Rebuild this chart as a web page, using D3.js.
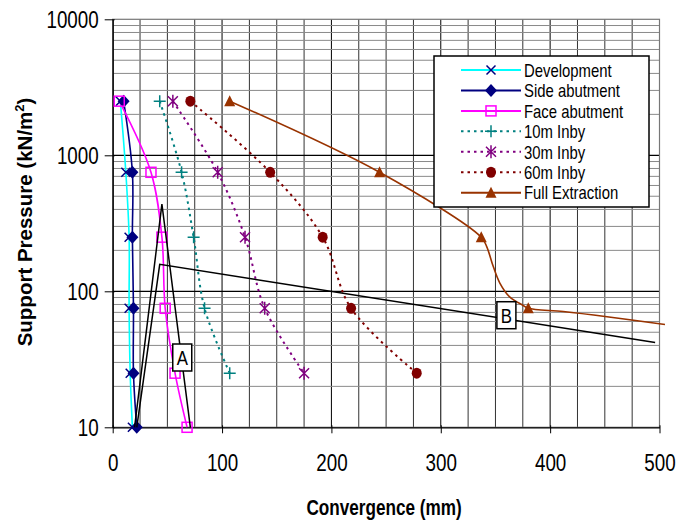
<!DOCTYPE html>
<html><head><meta charset="utf-8">
<script src="https://cdn.jsdelivr.net/npm/d3@7"></script>
<style>body{margin:0;background:#fff}svg{display:block}text{font-family:"Liberation Sans",Arial,sans-serif}</style>
</head><body>
<svg id="c" width="691" height="521"></svg>
<script>
// ---- data ----
const pressure = [2500, 750, 250, 75, 25, 10];
const pressureInby = [2500, 750, 250, 75, 25];
const developmentX = [7, 12, 15, 15, 16, 18];
const sideAbutmentX = [10, 18, 18, 19, 19, 22];
const faceAbutmentX = [6, 35, 45, 48, 57, 68];
const inby10X = [43, 63, 74, 84, 107];
const inby30X = [55, 96, 121, 139, 175];
const inby60X = [71, 144, 192, 218, 278];
const fullExtractionX = [107, 244, 337, 380];
const fullExtractionP = [2500, 750, 250, 75];
const fullExtractionLineX = [107, 244, 337, 342, 348, 354, 363, 375, 380, 412, 452, 505];
const fullExtractionLineP = [2500, 750, 250, 213, 152, 115, 91, 79, 75, 71, 65, 57];
const lineAX = [20, 45, 71];
const lineAP = [10, 438, 10];
const lineBX = [22, 43, 496];
const lineBP = [10, 158, 42];
const labelText = ["A", "B"];
const labelX = [63.6, 360];
const labelP = [32.6, 66.7];
const xTicks = [0, 100, 200, 300, 400, 500];
const yTicks = [10, 100, 1000, 10000];
const seriesNames = ["Development", "Side abutment", "Face abutment", "10m Inby", "30m Inby", "60m Inby", "Full Extraction"];

const SX = 0.8;
const svg = d3.select("#c");
const x = d3.scaleLinear().domain([0, 500]).range([112.7, 659.5]);
const y = d3.scaleLog().domain([10, 10000]).range([427.3, 19.3]);
const X0 = x.range()[0], X1 = x.range()[1], Y0 = y.range()[0], Y1 = y.range()[1];

// gridlines
const grid = svg.append("g");
const vGrid = d3.range(0, 501, 25);
grid.selectAll(".vg").data(vGrid).enter().append("line")
  .attr("x1", d => x(d)).attr("x2", d => x(d)).attr("y1", Y1).attr("y2", Y0)
  .attr("stroke", d => d % 100 === 0 ? "#000" : "#333").attr("stroke-width", 1);
const hMinor = [];
[10, 100, 1000].forEach(dec => { for (let k = 2; k <= 9; k++) hMinor.push(dec * k); });
grid.selectAll(".hg").data(hMinor).enter().append("line")
  .attr("x1", X0).attr("x2", X1).attr("y1", d => y(d)).attr("y2", d => y(d))
  .attr("stroke", "#8a8a8a").attr("stroke-width", 1);
grid.selectAll(".hM").data([100, 1000]).enter().append("line")
  .attr("x1", X0).attr("x2", X1).attr("y1", d => y(d)).attr("y2", d => y(d))
  .attr("stroke", "#000").attr("stroke-width", 1.3);
svg.append("rect").attr("x", X0).attr("y", Y1).attr("width", X1 - X0).attr("height", Y0 - Y1)
  .attr("fill", "none").attr("stroke", "#777").attr("stroke-width", 1.2);

// axes
const xAxis = svg.append("g").attr("transform", `translate(0,${Y0})`)
  .call(d3.axisBottom(x).tickValues(xTicks).tickFormat(d3.format("d")).tickSizeOuter(0));
xAxis.select(".domain").attr("stroke", "#000").attr("stroke-width", 1.3);
xAxis.selectAll(".tick line").attr("y1", -2).attr("y2", 6).attr("stroke", "#000");
xAxis.selectAll(".tick text").attr("y", 0).attr("dy", 0)
  .attr("transform", "translate(0,44) scale(" + SX + ",1)")
  .attr("font-size", 23.5).attr("fill", "#000").attr("font-family", "Liberation Sans, Arial");

const yAxis = svg.append("g").attr("transform", `translate(${X0},0)`)
  .call(d3.axisLeft(y).tickValues(yTicks).tickFormat(d3.format("d")).tickSizeOuter(0));
yAxis.select(".domain").attr("stroke", "#000").attr("stroke-width", 1.3);
yAxis.selectAll(".tick line").attr("x1", 2).attr("x2", -8).attr("stroke", "#000");
yAxis.selectAll(".tick text").attr("x", 0).attr("dy", 0)
  .attr("transform", "translate(-14,8) scale(" + SX + ",1)")
  .attr("font-size", 23.5).attr("fill", "#000").attr("font-family", "Liberation Sans, Arial");

// axis titles
svg.append("text").attr("transform", `translate(${(X0 + X1) / 2 - 2},515) scale(0.78,1)`)
  .attr("text-anchor", "middle").attr("font-size", 22).attr("font-weight", "bold")
  .text("Convergence (mm)");
const yt = svg.append("text").attr("transform", "translate(32,222) rotate(-90)")
  .attr("text-anchor", "middle").attr("font-size", 20.5).attr("font-weight", "bold");
yt.append("tspan").text("Support Pressure (kN/m");
yt.append("tspan").attr("dy", -8).attr("font-size", 13).text("2");
yt.append("tspan").attr("dy", 8).text(")");

// series
const smooth = d3.line().x(d => x(d[0])).y(d => y(d[1])).curve(d3.curveCatmullRom.alpha(0.5));
const straight = d3.line().x(d => x(d[0])).y(d => y(d[1]));
const zip = (a, b) => a.map((v, i) => [v, b[i]]);

const series = [
  {name: seriesNames[0], pts: zip(developmentX, pressure), line: "#00FFFF", mk: "#000080", shape: "x", dash: null},
  {name: seriesNames[1], pts: zip(sideAbutmentX, pressure), line: "#000080", mk: "#000080", shape: "diamond", dash: null},
  {name: seriesNames[2], pts: zip(faceAbutmentX, pressure), line: "#FF00FF", mk: "#FF00FF", shape: "square", dash: null},
  {name: seriesNames[3], pts: zip(inby10X, pressureInby), line: "#008080", mk: "#008080", shape: "plus", dash: "2.5,4"},
  {name: seriesNames[4], pts: zip(inby30X, pressureInby), line: "#800080", mk: "#800080", shape: "star", dash: "2.5,4"},
  {name: seriesNames[5], pts: zip(inby60X, pressureInby), line: "#800000", mk: "#800000", shape: "circle", dash: "2.5,4"},
  {name: seriesNames[6], pts: zip(fullExtractionX, fullExtractionP), linePts: zip(fullExtractionLineX, fullExtractionLineP), line: "#993300", mk: "#993300", shape: "triangle", dash: null}
];

function marker(g, shape, color, cx, cy) {
  const s = g.append("g").attr("transform", `translate(${cx},${cy})`);
  if (shape === "x") {
    s.append("path").attr("d", "M-4.5,-4.5L4.5,4.5M-4.5,4.5L4.5,-4.5").attr("stroke", color).attr("stroke-width", 1.5);
  } else if (shape === "diamond") {
    s.append("path").attr("d", "M0,-6.5L6,0L0,6.5L-6,0Z").attr("fill", color);
  } else if (shape === "square") {
    s.append("rect").attr("x", -5).attr("y", -5).attr("width", 10).attr("height", 10)
      .attr("fill", "none").attr("stroke", color).attr("stroke-width", 1.5);
  } else if (shape === "plus") {
    s.append("path").attr("d", "M-6,0L6,0M0,-6L0,6").attr("stroke", color).attr("stroke-width", 1.5);
  } else if (shape === "star") {
    s.append("path").attr("d", "M-5,-5L5,5M-5,5L5,-5M0,-6.5L0,6.5").attr("stroke", color).attr("stroke-width", 1.5);
  } else if (shape === "circle") {
    s.append("ellipse").attr("rx", 5).attr("ry", 5.5).attr("fill", color);
  } else if (shape === "triangle") {
    s.append("path").attr("d", "M0,-6L5.5,5L-5.5,5Z").attr("fill", color);
  }
}

const plot = svg.append("g");
series.forEach(s => {
  plot.append("path").attr("d", smooth(s.linePts || s.pts)).attr("fill", "none")
    .attr("stroke", s.line).attr("stroke-width", s.dash ? 2 : 1.6)
    .attr("stroke-dasharray", s.dash);
});
series.forEach(s => {
  s.pts.forEach(p => marker(plot, s.shape, s.mk, x(p[0]), y(p[1])));
});

// annotation lines
plot.append("path").attr("d", straight(zip(lineAX, lineAP))).attr("fill", "none").attr("stroke", "#000").attr("stroke-width", 1.5);
plot.append("path").attr("d", straight(zip(lineBX, lineBP))).attr("fill", "none").attr("stroke", "#000").attr("stroke-width", 1.5);
labelText.forEach((t, i) => {
  const cx = x(labelX[i]), cy = y(labelP[i]);
  plot.append("rect").attr("x", cx - 9.5).attr("y", cy - 13.5).attr("width", 19).attr("height", 27)
    .attr("fill", "#fff").attr("stroke", "#000").attr("stroke-width", 1.5);
  plot.append("text").attr("transform", `translate(${cx},${cy + 7.5}) scale(${SX},1)`)
    .attr("text-anchor", "middle").attr("font-size", 21).text(t);
});

// legend
const lg = svg.append("g");
lg.append("rect").attr("x", 434).attr("y", 56).attr("width", 215).attr("height", 151)
  .attr("fill", "#fff").attr("stroke", "#000").attr("stroke-width", 1.5);
series.forEach((s, i) => {
  const cy = 70 + i * 20.45;
  lg.append("line").attr("x1", 461).attr("x2", 521).attr("y1", cy).attr("y2", cy)
    .attr("stroke", s.line).attr("stroke-width", 2).attr("stroke-dasharray", s.dash);
  marker(lg, s.shape, s.mk, 491, cy);
  lg.append("text").attr("transform", `translate(524,${cy + 6.7}) scale(${SX},1)`)
    .attr("font-size", 18.6).text(s.name);
});
</script>
</body></html>
